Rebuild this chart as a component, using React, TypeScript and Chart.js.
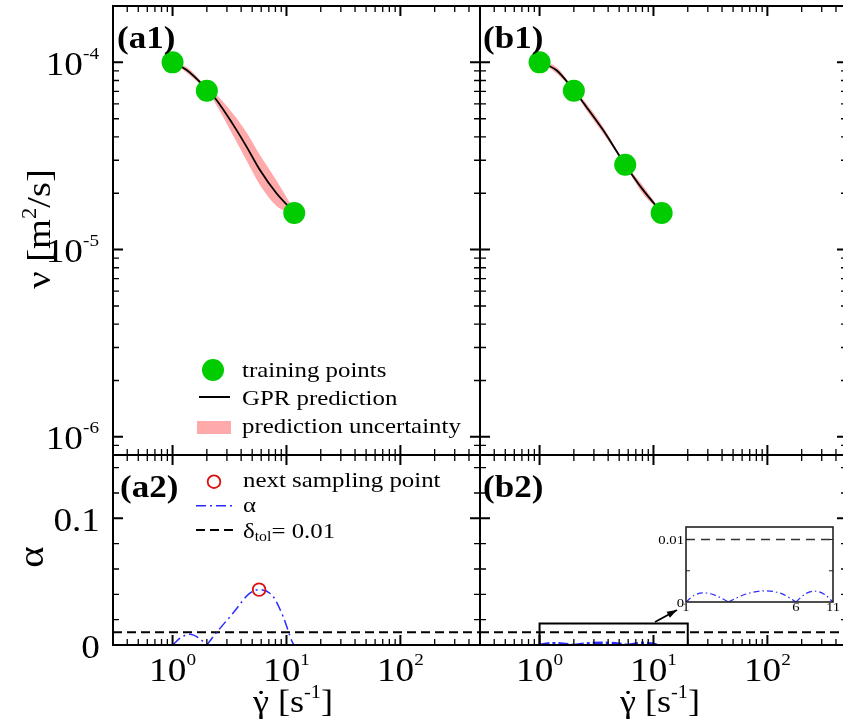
import React, { useEffect, useRef } from 'react';
import { Chart, registerables } from 'chart.js';

Chart.register(...registerables);

const W = 860;
const H = 721;
const SERIF = '"Liberation Serif", "Times New Roman", serif';
const SX = 1.13;

const GREEN = '#00cc00';
const PINK = '#ffaaaa';
const BLUE = '#2b2bff';
const RED = '#dd1111';

// ---------- axis ranges & tick labels ----------
const RATE_MIN = 0.3;
const RATE_MAX = 500;
const NU_MIN = 8e-7;
const NU_MAX = 2e-4;
const ALPHA_MIN = 0;
const ALPHA_MAX = 0.15;
const nuTickExponents = [-4, -5, -6];
const rateTickExponents = [0, 1, 2];
const alphaTickValues = [0, 0.1];
const alphaTickLabels = ['0', '0.1'];

// ---------- (a1) ----------
const a1TrainRate = [1, 2, 11.7];
const a1TrainNu = [1.0e-4, 7.06e-5, 1.57e-5];
const a1GprRate = [1, 1.33, 2, 2.43, 3.4, 4.46, 5.83, 8.17, 11.7];
const a1GprNu = [1.0e-4, 9.1e-5, 7.2e-5, 6.3e-5, 4.65e-5, 3.55e-5, 2.67e-5, 2.0e-5, 1.58e-5];
const a1UpperNu = [1.0e-4, 9.42e-5, 7.4e-5, 6.72e-5, 5.31e-5, 4.22e-5, 3.21e-5, 2.34e-5, 1.62e-5];
const a1LowerNu = [1.0e-4, 8.79e-5, 7.0e-5, 5.9e-5, 4.07e-5, 2.99e-5, 2.22e-5, 1.71e-5, 1.54e-5];

// ---------- (b1) ----------
const b1TrainRate = [1, 2, 5.65, 11.8];
const b1TrainNu = [1.0e-4, 7.06e-5, 2.84e-5, 1.57e-5];
const b1GprRate = [1, 1.4, 2, 2.57, 3.6, 5.65, 8.06, 11.8];
const b1GprNu = [1.0e-4, 9.1e-5, 7.1e-5, 5.8e-5, 4.36e-5, 2.84e-5, 2.09e-5, 1.58e-5];
const b1UpperNu = [1.0e-4, 9.45e-5, 7.2e-5, 6.05e-5, 4.55e-5, 2.88e-5, 2.2e-5, 1.59e-5];
const b1LowerNu = [1.0e-4, 8.76e-5, 7.0e-5, 5.56e-5, 4.18e-5, 2.8e-5, 1.99e-5, 1.57e-5];

// ---------- (a2) ----------
const a2AlphaRate = [1, 1.2, 1.42, 1.7, 2, 2, 2, 2.43, 3.4, 4.77, 5.75, 7.63, 9.34, 11.4, 11.7];
const a2Alpha = [0, 0.0062, 0.0085, 0.0055, 0, null, 0, 0.0098, 0.0252, 0.041, 0.0437, 0.0383, 0.0225, 0.0013, 0];
const a2NextRate = [5.75];
const a2NextAlpha = [0.0437];
const tolRate = [0.3, 500];
const tolAlpha = [0.01, 0.01];

// ---------- (b2) ----------
const b2AlphaRate = [1, 1.15, 1.33, 1.6, 2, 2, 2, 2.6, 3.64, 4.8, 6, 6, 6, 7, 8.2, 9.6, 11];
const b2Alpha = [0, 0.0011, 0.00146, 0.0011, 0, null, 0, 0.0012, 0.00178, 0.0013, 0, null, 0, 0.0013, 0.00173, 0.0012, 0];
const zoomBoxRate = [1, 20, 20, 1, 1];
const zoomBoxAlpha = [0, 0, 0.017, 0.017, 0];

// ---------- inset ----------
const INSET_RATE_MIN = 1;
const INSET_RATE_MAX = 11;
const INSET_ALPHA_MAX = 0.012;
const insetTolRate = [1, 11];
const insetRateTicks = [1, 6, 11];
const insetAlphaTicks = [0, 0.005, 0.01];
const insetAlphaLabels = ['0', '', '0.01'];

type Area = { l: number; t: number; r: number; b: number };
const A1: Area = { l: 113, t: 6, r: 480, b: 455 };
const B1: Area = { l: 480, t: 6, r: 847, b: 455 };
const A2: Area = { l: 113, t: 455, r: 480, b: 645 };
const B2: Area = { l: 480, t: 455, r: 847, b: 645 };
const INSET: Area = { l: 686, t: 527, r: 833, b: 602 };

type Part = { t: string; size: number; bold?: boolean; dy?: number };

const pts = (xs: number[], ys: (number | null)[]) => xs.map((x, i) => ({ x, y: ys[i] }));

function fontOf(p: Part) {
  return `${p.bold ? 'bold ' : ''}${p.size}px ${SERIF}`;
}

function measureParts(ctx: CanvasRenderingContext2D, parts: Part[]) {
  let w = 0;
  for (const p of parts) {
    ctx.font = fontOf(p);
    w += ctx.measureText(p.t).width * SX;
  }
  return w;
}

function drawParts(ctx: CanvasRenderingContext2D, parts: Part[], x: number, y: number, align: 'left' | 'center' | 'right') {
  const w = measureParts(ctx, parts);
  let cx = align === 'left' ? x : align === 'center' ? x - w / 2 : x - w;
  ctx.save();
  ctx.fillStyle = '#000';
  ctx.textBaseline = 'alphabetic';
  ctx.textAlign = 'left';
  for (const p of parts) {
    ctx.font = fontOf(p);
    const pw = ctx.measureText(p.t).width * SX;
    ctx.save();
    ctx.translate(cx, y + (p.dy || 0));
    ctx.scale(SX, 1);
    ctx.fillText(p.t, 0, 0);
    ctx.restore();
    cx += pw;
  }
  ctx.restore();
  return w;
}

function drawRotated(ctx: CanvasRenderingContext2D, parts: Part[], baseX: number, centerY: number) {
  ctx.save();
  ctx.translate(baseX, centerY);
  ctx.rotate(-Math.PI / 2);
  drawParts(ctx, parts, 0, 0, 'center');
  ctx.restore();
}

type Tick = { v: number; major: boolean };

function logTicks(min: number, max: number): Tick[] {
  const out: Tick[] = [];
  for (let d = Math.floor(Math.log10(min)); d <= Math.ceil(Math.log10(max)); d++) {
    for (let m = 1; m <= 9; m++) {
      const v = m * Math.pow(10, d);
      if (v > min * 1.0001 && v < max * 0.9999) out.push({ v, major: m === 1 });
    }
  }
  return out;
}

function alphaTicks(): Tick[] {
  const out: Tick[] = [];
  for (let k = 1; k <= 7; k++) out.push({ v: (k * 2) / 100, major: k === 5 });
  return out;
}

function drawFrame(chart: any, xt: Tick[], yt: Tick[]) {
  const ctx: CanvasRenderingContext2D = chart.ctx;
  const a = chart.chartArea;
  const xs = chart.scales.x;
  const ys = chart.scales.y;
  ctx.save();
  ctx.strokeStyle = '#000';
  ctx.setLineDash([]);
  for (const t of xt) {
    const p = xs.getPixelForValue(t.v);
    const L = t.major ? 10 : 6;
    ctx.lineWidth = t.major ? 2 : 1.3;
    ctx.beginPath();
    ctx.moveTo(p, a.top);
    ctx.lineTo(p, a.top + L);
    ctx.moveTo(p, a.bottom);
    ctx.lineTo(p, a.bottom - L);
    ctx.stroke();
  }
  for (const t of yt) {
    const p = ys.getPixelForValue(t.v);
    const L = t.major ? 10 : 6;
    ctx.lineWidth = t.major ? 2 : 1.3;
    ctx.beginPath();
    ctx.moveTo(a.left, p);
    ctx.lineTo(a.left + L, p);
    ctx.moveTo(a.right, p);
    ctx.lineTo(a.right - L, p);
    ctx.stroke();
  }
  ctx.lineWidth = 2;
  ctx.strokeRect(a.left, a.top, a.right - a.left, a.bottom - a.top);
  ctx.restore();
}

function drawRateLabels(chart: any) {
  const xs = chart.scales.x;
  const a = chart.chartArea;
  for (const e of rateTickExponents) {
    const px = xs.getPixelForValue(Math.pow(10, e));
    drawParts(chart.ctx, [{ t: '10', size: 33 }, { t: String(e), size: 17, dy: -16 }], px, a.bottom + 36, 'center');
  }
}

function drawRateTitle(ctx: CanvasRenderingContext2D, cx: number, baseline: number) {
  const parts: Part[] = [
    { t: 'γ', size: 32 },
    { t: ' [s', size: 32 },
    { t: '-1', size: 18, dy: -14 },
    { t: ']', size: 32 },
  ];
  const w = measureParts(ctx, parts);
  const x0 = cx - w / 2;
  drawParts(ctx, parts, x0, baseline, 'left');
  ctx.font = `32px ${SERIF}`;
  const gw = ctx.measureText('γ').width * SX;
  drawParts(ctx, [{ t: '˙', size: 32 }], x0 + gw / 2, baseline, 'center');
}

function baseOptions(area: Area, xScale: any, yScale: any): any {
  return {
    responsive: false,
    maintainAspectRatio: false,
    animation: false,
    devicePixelRatio: 1,
    events: [],
    layout: {
      autoPadding: false,
      padding: { left: area.l, top: area.t, right: W - area.r, bottom: H - area.b },
    },
    plugins: { legend: { display: false }, tooltip: { enabled: false } },
    scales: { x: { ...xScale, display: false }, y: { ...yScale, display: false } },
  };
}

const rateScale = { type: 'logarithmic', min: RATE_MIN, max: RATE_MAX };
const nuScale = { type: 'logarithmic', min: NU_MIN, max: NU_MAX };
const alphaScale = { type: 'linear', min: ALPHA_MIN, max: ALPHA_MAX };

function nuDatasets(trainX: number[], trainY: number[], gx: number[], gy: number[], up: number[], lo: number[]) {
  return [
    {
      data: pts(trainX, trainY),
      showLine: false,
      pointRadius: 11,
      pointStyle: 'circle',
      pointBackgroundColor: GREEN,
      pointBorderColor: GREEN,
      pointBorderWidth: 0,
      order: 0,
    },
    {
      data: pts(gx, gy),
      borderColor: '#000',
      borderWidth: 1.8,
      pointRadius: 0,
      cubicInterpolationMode: 'monotone',
      fill: false,
      order: 1,
    },
    {
      data: pts(gx, lo),
      borderColor: 'rgba(0,0,0,0)',
      borderWidth: 0,
      pointRadius: 0,
      cubicInterpolationMode: 'monotone',
      fill: false,
      order: 2,
    },
    {
      data: pts(gx, up),
      borderColor: 'rgba(0,0,0,0)',
      backgroundColor: PINK,
      borderWidth: 0,
      pointRadius: 0,
      cubicInterpolationMode: 'monotone',
      fill: '-1',
      order: 3,
    },
  ];
}

function makeCharts(cv: (HTMLCanvasElement | null)[]) {
  const charts: Chart[] = [];
  const rt = logTicks(RATE_MIN, RATE_MAX);
  const nt = logTicks(NU_MIN, NU_MAX);
  const at = alphaTicks();

  // (a1)
  charts.push(
    new Chart(cv[0] as HTMLCanvasElement, {
      type: 'line',
      data: { datasets: nuDatasets(a1TrainRate, a1TrainNu, a1GprRate, a1GprNu, a1UpperNu, a1LowerNu) as any },
      options: baseOptions(A1, rateScale, nuScale),
      plugins: [
        {
          id: 'a1deco',
          beforeDraw(chart: any) {
            const c = chart.ctx;
            c.save();
            c.fillStyle = '#fff';
            c.fillRect(0, 0, chart.width, chart.height);
            c.restore();
          },
          afterDraw(chart: any) {
            const ctx: CanvasRenderingContext2D = chart.ctx;
            const a = chart.chartArea;
            drawFrame(chart, rt, nt);
            const ys = chart.scales.y;
            for (const e of nuTickExponents) {
              const py = ys.getPixelForValue(Math.pow(10, e));
              drawParts(ctx, [{ t: '10', size: 33 }, { t: String(e), size: 17, dy: -16 }], a.left - 14, py + 12.5, 'right');
            }
            drawParts(ctx, [{ t: '(a1)', size: 31, bold: true }], a.left + 4, a.top + 42, 'left');
            // legend
            const lx = a.left;
            ctx.save();
            ctx.fillStyle = GREEN;
            ctx.beginPath();
            ctx.arc(lx + 100, 370, 11, 0, Math.PI * 2);
            ctx.fill();
            ctx.strokeStyle = '#000';
            ctx.lineWidth = 2;
            ctx.beginPath();
            ctx.moveTo(lx + 86, 397);
            ctx.lineTo(lx + 117, 397);
            ctx.stroke();
            ctx.fillStyle = PINK;
            ctx.fillRect(lx + 84, 421, 34, 13);
            ctx.restore();
            drawParts(ctx, [{ t: 'training points', size: 22 }], lx + 129, 377, 'left');
            drawParts(ctx, [{ t: 'GPR prediction', size: 22 }], lx + 129, 405, 'left');
            drawParts(ctx, [{ t: 'prediction uncertainty', size: 22 }], lx + 129, 433, 'left');
            // y title
            drawRotated(ctx, [{ t: 'ν [m', size: 34 }, { t: '2', size: 20, dy: -14 }, { t: '/s]', size: 34 }], 50, 229);
          },
        } as any,
      ],
    })
  );

  // (b1)
  charts.push(
    new Chart(cv[1] as HTMLCanvasElement, {
      type: 'line',
      data: { datasets: nuDatasets(b1TrainRate, b1TrainNu, b1GprRate, b1GprNu, b1UpperNu, b1LowerNu) as any },
      options: baseOptions(B1, rateScale, nuScale),
      plugins: [
        {
          id: 'b1deco',
          afterDraw(chart: any) {
            const a = chart.chartArea;
            drawFrame(chart, rt, nt);
            drawParts(chart.ctx, [{ t: '(b1)', size: 31, bold: true }], a.left + 3, a.top + 42, 'left');
          },
        } as any,
      ],
    })
  );

  const alphaSet = (xs: number[], ys: (number | null)[], dash: number[], width: number) => ({
    data: pts(xs, ys),
    borderColor: BLUE,
    borderWidth: width,
    borderDash: dash,
    pointRadius: 0,
    cubicInterpolationMode: 'monotone',
    spanGaps: false,
    fill: false,
    order: 1,
  });
  const tolSet = (xs: number[], color: string, dash: number[], width: number) => ({
    data: pts(xs, tolAlpha),
    borderColor: color,
    borderWidth: width,
    borderDash: dash,
    pointRadius: 0,
    fill: false,
    order: 2,
  });

  // (a2)
  charts.push(
    new Chart(cv[2] as HTMLCanvasElement, {
      type: 'line',
      data: {
        datasets: [
          {
            data: pts(a2NextRate, a2NextAlpha),
            showLine: false,
            pointRadius: 6.3,
            pointStyle: 'circle',
            pointBackgroundColor: 'rgba(0,0,0,0)',
            pointBorderColor: RED,
            pointBorderWidth: 1.8,
            order: 0,
          },
          alphaSet(a2AlphaRate, a2Alpha, [10, 4, 2, 4], 1.5),
          tolSet(tolRate, '#000', [9, 5], 2),
        ] as any,
      },
      options: baseOptions(A2, rateScale, alphaScale),
      plugins: [
        {
          id: 'a2deco',
          afterDraw(chart: any) {
            const ctx: CanvasRenderingContext2D = chart.ctx;
            const a = chart.chartArea;
            drawFrame(chart, rt, at);
            const ys = chart.scales.y;
            alphaTickValues.forEach((v, i) => {
              const py = ys.getPixelForValue(v);
              drawParts(ctx, [{ t: alphaTickLabels[i], size: 33 }], a.left - 13, py + 12.5, 'right');
            });
            drawRateLabels(chart);
            drawParts(ctx, [{ t: '(a2)', size: 31, bold: true }], a.left + 7, a.top + 42, 'left');
            // legend
            const lx = a.left;
            ctx.save();
            ctx.strokeStyle = RED;
            ctx.lineWidth = 1.8;
            ctx.beginPath();
            ctx.arc(lx + 101, 481.7, 6.3, 0, Math.PI * 2);
            ctx.stroke();
            ctx.strokeStyle = BLUE;
            ctx.lineWidth = 1.5;
            ctx.setLineDash([10, 4, 2, 4]);
            ctx.beginPath();
            ctx.moveTo(lx + 83, 505.7);
            ctx.lineTo(lx + 120, 505.7);
            ctx.stroke();
            ctx.strokeStyle = '#000';
            ctx.lineWidth = 2;
            ctx.setLineDash([9, 5]);
            ctx.beginPath();
            ctx.moveTo(lx + 83, 530);
            ctx.lineTo(lx + 120, 530);
            ctx.stroke();
            ctx.restore();
            drawParts(ctx, [{ t: 'next sampling point', size: 22 }], lx + 130, 487, 'left');
            drawParts(ctx, [{ t: 'α', size: 22 }], lx + 130, 512, 'left');
            drawParts(
              ctx,
              [
                { t: 'δ', size: 22 },
                { t: 'tol', size: 14, dy: 3 },
                { t: '= 0.01', size: 22 },
              ],
              lx + 130,
              538,
              'left'
            );
            drawRotated(ctx, [{ t: 'α', size: 36 }], 43, 557);
            drawRateTitle(ctx, 293, 712);
          },
        } as any,
      ],
    })
  );

  // (b2)
  charts.push(
    new Chart(cv[3] as HTMLCanvasElement, {
      type: 'line',
      data: {
        datasets: [
          {
            data: pts(zoomBoxRate, zoomBoxAlpha),
            borderColor: '#000',
            borderWidth: 2,
            pointRadius: 0,
            fill: false,
            order: 0,
          },
          alphaSet(b2AlphaRate, b2Alpha, [10, 3, 3, 3], 2.4),
          tolSet(tolRate, '#000', [9, 5], 2),
        ] as any,
      },
      options: baseOptions(B2, rateScale, alphaScale),
      plugins: [
        {
          id: 'b2deco',
          afterDraw(chart: any) {
            const ctx: CanvasRenderingContext2D = chart.ctx;
            const a = chart.chartArea;
            drawFrame(chart, rt, at);
            drawRateLabels(chart);
            drawParts(ctx, [{ t: '(b2)', size: 31, bold: true }], a.left + 3, a.top + 42, 'left');
            drawRateTitle(ctx, 660, 712);
          },
        } as any,
      ],
    })
  );

  // inset
  charts.push(
    new Chart(cv[4] as HTMLCanvasElement, {
      type: 'line',
      data: {
        datasets: [
          alphaSet(b2AlphaRate, b2Alpha, [6, 3, 1.5, 3], 1.2),
          tolSet(insetTolRate, '#333', [9, 6], 1.5),
        ] as any,
      },
      options: baseOptions(
        INSET,
        { type: 'logarithmic', min: INSET_RATE_MIN, max: INSET_RATE_MAX },
        { type: 'linear', min: 0, max: INSET_ALPHA_MAX }
      ),
      plugins: [
        {
          id: 'insetdeco',
          beforeDatasetsDraw(chart: any) {
            const c = chart.ctx;
            const a = chart.chartArea;
            c.save();
            c.fillStyle = '#fff';
            c.fillRect(a.left, a.top, a.right - a.left, a.bottom - a.top);
            c.restore();
          },
          afterDraw(chart: any) {
            const ctx: CanvasRenderingContext2D = chart.ctx;
            const a = chart.chartArea;
            const xs = chart.scales.x;
            const ys = chart.scales.y;
            ctx.save();
            ctx.strokeStyle = '#222';
            ctx.setLineDash([]);
            ctx.lineWidth = 1.2;
            insetAlphaTicks.forEach((v) => {
              if (v === 0) return;
              const py = ys.getPixelForValue(v);
              ctx.beginPath();
              ctx.moveTo(a.left, py);
              ctx.lineTo(a.left + 4, py);
              ctx.moveTo(a.right, py);
              ctx.lineTo(a.right - 4, py);
              ctx.stroke();
            });
            ctx.lineWidth = 1.6;
            ctx.strokeRect(a.left, a.top, a.right - a.left, a.bottom - a.top);
            // arrow
            const sx = a.left - 31;
            const sy = a.bottom + 20;
            const ex = a.left - 9;
            const ey = a.bottom + 8;
            ctx.strokeStyle = '#000';
            ctx.lineWidth = 1.8;
            ctx.beginPath();
            ctx.moveTo(sx, sy);
            ctx.lineTo(ex, ey);
            ctx.stroke();
            const ang = Math.atan2(ey - sy, ex - sx);
            ctx.fillStyle = '#000';
            ctx.beginPath();
            ctx.moveTo(ex, ey);
            ctx.lineTo(ex - 10 * Math.cos(ang) + 3.5 * Math.sin(ang), ey - 10 * Math.sin(ang) - 3.5 * Math.cos(ang));
            ctx.lineTo(ex - 10 * Math.cos(ang) - 3.5 * Math.sin(ang), ey - 10 * Math.sin(ang) + 3.5 * Math.cos(ang));
            ctx.closePath();
            ctx.fill();
            ctx.restore();
            insetAlphaTicks.forEach((v, i) => {
              if (!insetAlphaLabels[i]) return;
              const py = ys.getPixelForValue(v);
              drawParts(ctx, [{ t: insetAlphaLabels[i], size: 13 }], a.left - 2, py + 4.5, 'right');
            });
            insetRateTicks.forEach((v) => {
              const px = xs.getPixelForValue(v);
              drawParts(ctx, [{ t: String(v), size: 13 }], px, a.bottom + 9, 'center');
            });
          },
        } as any,
      ],
    })
  );

  return charts;
}

export default function App() {
  const canvases = useRef<(HTMLCanvasElement | null)[]>([]);
  useEffect(() => {
    const charts = makeCharts(canvases.current);
    return () => charts.forEach((c) => c.destroy());
  }, []);
  return (
    <div
      style={{
        position: 'absolute',
        left: 0,
        top: 0,
        width: 843,
        height: 721,
        overflow: 'hidden',
        background: '#fff',
      }}
    >
      {[0, 1, 2, 3, 4].map((i) => (
        <canvas
          key={i}
          ref={(el) => {
            canvases.current[i] = el;
          }}
          width={W}
          height={H}
          style={{ position: 'absolute', left: 0, top: 0, width: W, height: H }}
        />
      ))}
    </div>
  );
}
